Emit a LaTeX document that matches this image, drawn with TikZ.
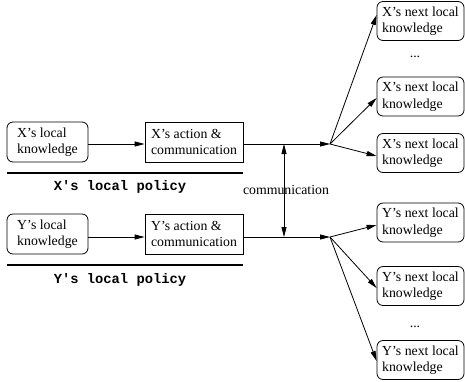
\documentclass[tikz,border=0pt]{standalone}
\usepackage{fontspec}
\setmainfont{Liberation Serif}
\newfontfamily\polfont{Liberation Mono}
\usetikzlibrary{arrows.meta}
\begin{document}
\begin{tikzpicture}[x=1bp,y=-1bp,
  txt/.style={font=\fontsize{13.8bp}{16.5bp}\selectfont, align=left, inner sep=0pt},
  kbox/.style={txt, draw, line width=0.8bp, rounded corners=6bp, minimum width=81bp, minimum height=40bp},
  abox/.style={txt, draw, line width=0.8bp, minimum width=98bp, minimum height=40bp},
  nbox/.style={txt, draw, line width=0.8bp, rounded corners=6bp, minimum width=87bp, minimum height=39bp},
  arr/.style={line width=0.8bp, -{Triangle[length=10bp,width=5bp]}},
  pol/.style={font=\polfont\bfseries\fontsize{13.8bp}{16bp}\selectfont, inner sep=0pt},
  polline/.style={line width=2.4bp}]
\useasboundingbox (0,0) rectangle (465,381);
% X side
\node[kbox] (xk) at (47.5,142) {X's local\\knowledge};
\node[abox] (xa) at (194,142) {X's action \&\\communication};
\coordinate (xo) at (330,144);
\coordinate (xpl) at (7,173);
\coordinate (xpr) at (243,173);
\draw[polline] (xpl) -- (xpr);
\node[pol] (xp) at (120,187) {X's local policy};
% Y side
\node[kbox] (yk) at (47.5,234) {Y's local\\knowledge};
\node[abox] (ya) at (194,234) {Y's action \&\\communication};
\coordinate (yo) at (330,237);
\coordinate (ypl) at (7,265);
\coordinate (ypr) at (243,265);
\draw[polline] (ypl) -- (ypr);
\node[pol] (yp) at (120,280) {Y's local policy};
% next boxes
\node[nbox] (xn1) at (420.5,21) {X's next local\\knowledge};
\node[txt] (xd) at (415,57) {...};
\node[nbox] (xn2) at (420.5,96.5) {X's next local\\knowledge};
\node[nbox] (xn3) at (420.5,153) {X's next local\\knowledge};
\node[nbox] (yn1) at (420.5,222.5) {Y's next local\\knowledge};
\node[nbox] (yn2) at (420.5,286) {Y's next local\\knowledge};
\node[txt] (yd) at (415,327) {...};
\node[nbox] (yn3) at (420.5,360) {Y's next local\\knowledge};
% arrows
\draw[arr] (xk.east |- 0,144) -- (xa.west |- 0,144);
\draw[arr] (yk.east |- 0,237) -- (ya.west |- 0,237);
\draw[arr] (xa.east |- xo) -- (xo);
\draw[arr] (ya.east |- yo) -- (yo);
\coordinate (ct) at (284,144);
\coordinate (cb) at (284,237);
\draw[line width=0.8bp, {Triangle[length=10bp,width=5bp]}-{Triangle[length=10bp,width=5bp]}] (ct) -- (cb);
\node[txt] (cl) at (286,190) {communication};
\draw[arr] (xo) -- (xn1.west |- 0,15);
\draw[arr] (xo) -- (xn2.west |- 0,98);
\draw[arr] (xo) -- (xn3.west |- 0,156);
\draw[arr] (yo) -- (yn1.west |- 0,225);
\draw[arr] (yo) -- (yn2.west |- 0,288);
\draw[arr] (yo) -- (yn3.west |- 0,361);
\end{tikzpicture}
\end{document}
